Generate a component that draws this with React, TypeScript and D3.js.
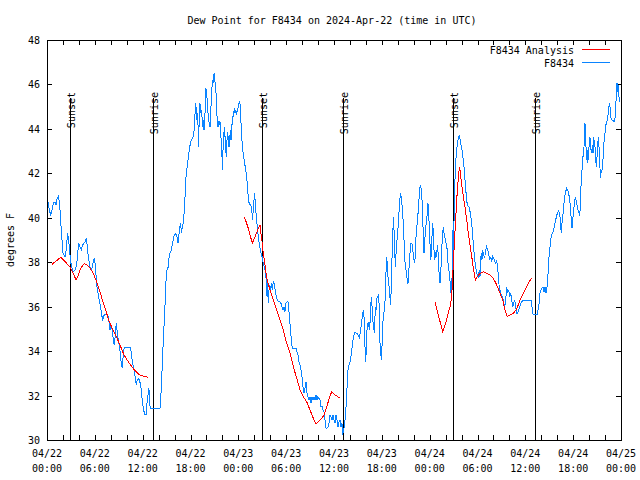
import React from 'react';
import * as d3 from 'd3';

const START_UTC = Date.UTC(2024, 3, 22, 0, 0);
const END_UTC = Date.UTC(2024, 3, 25, 0, 0);

const chartTitle = 'Dew Point for F8434 on 2024-Apr-22 (time in UTC)';
const yAxisLabel = 'degrees F';
const seriesNames = ['F8434 Analysis', 'F8434'];
const yTickValues = [30, 32, 34, 36, 38, 40, 42, 44, 46, 48];

// hours after 2024-04-22 00:00 UTC
const sunsetHours = [2.9, 27.0, 50.97];
const sunriseHours = [13.25, 37.17, 61.25];

// observed dew point [hours, degF]
const observed: [number, number][] = [
  [0.0,41.0],[0.29,40.35],[0.46,40.13],[0.59,40.27],[0.79,40.65],[1.0,40.72],[1.13,40.57],[1.21,40.8],[1.42,40.95],[1.55,40.72],[1.63,40.35],[1.76,39.6],[1.88,39.0],[1.96,38.47],[2.13,38.33],[2.26,38.25],[2.38,38.47],[2.47,38.85],[2.59,39.3],[2.72,39.0],[2.84,38.47],[2.97,38.02],[3.09,37.8],[3.3,37.57],[3.51,37.65],[3.72,37.88],[3.85,38.4],[3.97,38.85],[4.14,38.7],[4.3,38.55],[4.48,38.78],[4.64,38.85],[4.8,38.92],[4.93,39.07],[5.06,38.7],[5.18,38.25],[5.39,37.8],[5.6,37.65],[5.81,38.02],[5.93,38.17],[6.06,37.9],
  [6.23,37.0],[6.44,36.5],[6.65,36.1],[6.86,35.65],[6.99,35.35],[7.06,35.55],[7.19,35.63],[7.49,35.63],[7.69,35.55],[7.81,35.25],[7.9,34.95],[8.03,35.18],[8.19,34.95],[8.32,34.5],[8.44,34.28],[8.57,34.73],[8.69,35.25],[8.82,34.8],[8.94,34.5],[9.07,34.28],[9.19,33.9],[9.32,33.45],[9.45,33.23],[9.57,33.9],[9.7,34.17],[10.41,34.17],[10.57,33.97],[10.7,33.52],[10.83,33.3],[10.95,33.07],[11.08,32.78],[11.2,32.5],[11.33,32.7],[11.45,32.78],[11.58,32.7],[11.75,32.48],[11.88,32.03],[12.0,31.65],[12.13,31.35],[12.26,31.13],[12.42,31.13],[12.54,31.65],[12.67,32.03],[12.79,32.33],[12.88,31.58],[13.0,31.4],[14.17,31.4],[14.3,32.1],[14.43,33.15],[14.59,34.5],[14.76,35.7],[14.89,36.75],
  [14.97,37.57],[15.22,37.8],[15.34,38.33],[15.59,38.55],[15.84,39.0],[15.97,39.23],[16.09,39.3],[16.22,39.23],[16.34,39.08],[16.43,38.85],[16.52,39.15],[16.65,39.53],[16.72,39.75],[16.81,39.53],[16.9,39.3],[16.97,39.68],[17.1,39.75],[17.22,40.35],[17.35,41.2],
  [17.47,42.07],[17.6,42.3],[17.72,42.68],[17.85,43.05],[17.98,43.35],[18.1,43.5],[18.23,43.58],[18.35,43.65],[18.48,44.03],[18.57,44.7],[18.65,45.15],[18.73,44.85],[18.82,44.4],[18.9,44.7],[18.98,43.65],[19.03,43.2],[19.1,44.85],[19.19,45.15],[19.28,44.7],[19.36,44.85],[19.44,44.55],[19.53,44.1],[19.61,44.4],[19.69,43.95],[19.78,44.25],[19.86,45.15],[19.94,45.83],[20.03,45.45],[20.11,45.3],[20.2,44.7],[20.28,44.4],[20.36,44.25],[20.45,44.1],[20.53,44.55],[20.61,45.45],[20.7,45.9],[20.78,46.2],[20.86,46.05],[20.95,46.5],[21.04,46.2],[21.11,45.98],[21.2,45.6],[21.29,44.78],[21.36,44.4],[21.45,44.1],[21.54,44.33],[21.61,44.18],[21.7,44.33],[21.79,43.8],[21.86,43.42],[21.95,42.75],[21.99,42.15],[22.08,43.05],[22.17,43.65],[22.24,44.1],[22.33,43.65],[22.42,43.05],[22.49,42.75],[22.58,43.5],[22.67,43.88],[22.74,43.5],[22.83,43.2],[22.92,43.5],[22.99,43.95],[23.08,43.5],[23.17,43.95],[23.24,44.4],[23.33,44.55],[23.42,44.78],[23.5,44.85],[23.58,44.7],[23.67,44.85],[23.75,44.63],[23.83,44.78],[23.92,44.85],[24.0,45.0],[24.08,45.15],[24.17,45.22],[24.25,45.0],[24.34,44.25],[24.42,43.65],[24.55,43.05],[24.67,42.75],[24.8,42.45],[24.92,42.15],[25.05,41.85],[25.13,41.48],[25.21,41.1],[25.3,40.72],[25.38,40.65],[25.5,40.58],[25.63,40.5],[25.72,40.2],[25.8,39.9],[25.88,40.5],[25.97,40.8],[26.05,41.1],[26.13,40.65],[26.22,40.2],[26.3,39.9],
  [26.43,39.37],[26.56,39.0],[26.68,38.7],[26.81,38.47],[26.93,38.33],[27.06,38.1],[27.13,37.95],[27.26,37.8],[27.38,37.57],[27.51,37.2],[27.6,36.45],[27.68,37.05],[27.76,36.15],[27.85,36.75],[27.93,36.98],[28.01,36.67],[28.14,37.05],[28.26,36.75],[28.39,37.12],[28.51,37.05],[28.64,36.67],[28.76,36.45],[28.89,36.3],[29.01,36.22],[29.23,36.22],[29.35,36.15],[29.48,36.0],[29.6,35.85],[29.73,36.0],[29.85,35.77],[29.98,36.15],[30.11,36.22],[30.23,36.22],[30.32,36.0],[30.39,35.55],[30.52,35.1],[30.64,34.5],[30.77,34.13],[31.23,34.13],[31.36,33.97],[31.48,33.83],[31.61,33.52],[31.74,33.38],[31.86,33.15],[31.99,32.85],[32.11,32.4],[32.24,32.1],[32.36,32.33],[32.49,32.62],[32.62,32.1],[32.74,31.95],[32.87,31.8],[32.99,31.95],[33.12,31.65],[33.24,31.95],[33.37,31.8],[33.49,31.95],[33.62,31.8],[33.74,32.03],[33.87,31.8],[33.99,31.95],[34.24,31.8],[34.37,31.5],[34.5,31.5],[34.62,31.35],[34.75,31.27],[34.87,30.9],[35.0,30.53],[35.12,30.53],[35.25,30.6],[35.37,30.75],[35.5,31.13],[35.62,31.05],[35.75,30.9],[35.88,31.13],[36.0,30.9],[36.13,30.75],[36.25,31.13],[36.38,30.9],[36.5,30.6],[36.63,30.82],[36.75,30.9],[36.88,30.6],[37.0,30.75],[37.09,30.23],[37.17,30.37],[37.26,30.53],[37.38,30.9],[37.51,31.5],[37.63,32.33],[37.76,33.15],[37.88,33.38],[38.01,33.52],[38.13,33.75],[38.26,34.13],[38.38,34.5],[38.51,34.73],[38.63,34.87],[38.76,34.8],[38.92,34.8],[39.1,34.65],[39.2,34.58],
  [39.3,34.87],[39.43,35.18],[39.55,35.55],[39.68,35.85],[39.8,35.4],[39.89,34.2],[39.98,33.52],[40.05,34.13],[40.14,34.95],[40.23,35.25],[40.3,35.1],[40.39,35.32],[40.48,34.95],[40.55,35.55],[40.64,36.22],[40.73,36.45],[40.8,35.7],[40.89,35.32],[40.98,35.1],[41.06,34.8],[41.14,35.55],[41.23,36.0],[41.31,35.85],[41.39,36.38],[41.48,36.45],[41.61,36.53],[41.68,35.85],[41.77,34.35],[41.86,33.97],[41.93,33.6],[42.02,34.2],[42.11,35.18],[42.19,35.55],[42.31,35.85],[42.44,36.45],[42.52,37.5],[42.61,38.25],[42.69,37.88],[42.77,37.35],[42.94,36.83],[43.03,36.38],[43.11,36.08],[43.19,36.98],[43.28,38.25],[43.36,39.0],[43.44,40.05],[43.53,39.45],[43.62,38.55],[43.69,37.8],[43.78,38.4],[43.87,38.85],[43.94,39.15],[44.03,39.53],[44.12,39.9],[44.19,40.58],[44.28,40.88],[44.37,41.1],[44.44,40.88],[44.53,40.58],[44.62,40.2],[44.69,39.75],[44.78,39.0],[44.87,38.25],[44.94,37.8],[45.03,37.65],[45.12,37.5],[45.2,37.05],[45.28,37.05],[45.37,37.5],[45.45,37.95],[45.53,38.4],[45.62,38.85],[45.78,38.85],[45.87,38.63],[45.95,38.33],[46.04,38.1],[46.12,37.95],[46.2,38.33],[46.29,39.15],[46.37,39.45],[46.45,39.9],[46.54,40.2],[46.63,40.65],[46.7,41.03],[46.79,41.4],[46.88,41.48],[46.95,41.17],[47.04,40.8],[47.13,40.05],[47.2,39.15],[47.29,38.4],[47.38,38.85],[47.45,39.37],[47.54,39.68],[47.63,39.75],[47.7,40.35],[47.79,40.65],[47.88,40.2],[47.95,39.6],[48.04,38.85],[48.13,38.1],[48.21,38.4],[48.29,39.15],[48.38,39.75],[48.46,39.3],[48.54,38.55],[48.63,38.1],[48.71,38.25],[48.79,38.47],[48.88,38.25],[48.96,38.78],[49.05,38.47],[49.13,37.8],[49.21,37.35],[49.3,37.05],[49.39,37.5],[49.46,38.1],[49.55,38.85],[49.64,39.3],[49.71,39.6],[49.8,39.3],[49.89,39.15],[49.96,39.0],[50.05,38.85],[50.21,38.55],[50.3,37.95],[50.38,37.8],[50.46,37.5],[50.54,37.2],[50.64,36.75],[50.72,36.45],[50.8,37.2],[50.89,39.45],[50.97,37.95],
  [51.1,40.95],[51.22,42.15],[51.34,42.9],[51.47,43.28],[51.59,43.58],[51.72,43.73],[51.84,43.5],[51.97,43.2],[52.09,42.98],[52.22,42.6],[52.34,42.15],[52.47,41.55],[52.6,40.95],[52.72,40.58],[52.85,40.5],[52.97,40.47],[53.1,40.2],[53.22,39.9],[53.35,39.45],[53.47,38.85],[53.6,38.33],[53.72,37.88],[53.85,37.65],[53.97,37.43],[54.1,37.35],[54.22,37.65],[54.31,37.35],[54.4,38.1],[54.48,38.4],[54.56,38.1],[54.65,38.55],[54.78,38.33],[54.9,38.18],[55.03,38.55],[55.15,38.7],[55.28,38.55],[55.4,38.4],[55.53,38.1],[55.66,38.25],[55.78,38.02],[55.91,38.25],[56.03,38.18],[56.16,38.02],[56.28,37.95],[56.41,38.1],[56.49,37.8],[56.66,37.35],[56.74,36.6],[56.82,36.75],[56.91,36.6],[57.04,36.45],[57.16,36.45],[57.29,36.15],[57.41,36.0],[57.54,36.3],[57.66,36.9],[57.79,36.6],[57.91,36.75],[58.04,36.45],[58.17,36.6],[58.29,36.3],[58.42,36.0],[58.54,36.15],[58.67,36.3],[58.79,36.0],[58.92,35.7],[59.04,35.7],[59.17,35.85],[59.3,36.0],[59.42,36.15],[59.55,36.22],[59.75,36.3],[60.72,36.3],[60.84,36.0],[60.97,35.63],[61.47,35.63],[61.6,35.85],[61.72,36.15],[61.85,36.67],[61.97,36.75],[62.1,36.83],[62.22,36.9],[62.35,36.67],[62.47,36.9],[62.6,36.6],[62.72,36.9],[62.85,37.5],[62.97,38.25],[63.1,38.7],
  [63.18,39.0],[63.31,39.23],[63.56,39.45],[63.68,39.68],[63.81,39.9],[63.94,40.13],[64.06,40.2],[64.19,40.35],[64.26,40.13],[64.35,40.05],[64.44,39.6],[64.51,39.3],[64.6,39.75],[64.69,40.05],[64.77,40.35],[64.85,40.65],[64.94,40.95],[65.06,41.17],[65.19,41.33],[65.31,41.25],[65.44,41.1],[65.56,40.8],[65.69,40.43],[65.77,39.75],[65.86,39.53],[65.94,39.9],[66.02,40.13],[66.15,40.65],[66.27,40.95],[66.4,40.72],[66.52,40.5],[66.65,40.27],[66.73,40.2],[66.82,40.13],[66.9,40.5],[66.98,41.4],[67.07,42.0],[67.15,42.3],[67.23,42.75],[67.32,42.9],[67.4,43.5],[67.48,44.25],[67.57,43.8],[67.65,42.6],[67.74,43.05],[67.82,42.45],[67.9,42.75],[67.99,43.2],[68.07,43.65],[68.15,43.5],[68.24,43.05],[68.33,42.9],[68.4,43.28],[68.49,42.9],[68.58,43.65],[68.65,43.35],[68.74,43.2],[68.83,42.6],[68.9,42.3],[68.99,42.75],[69.07,43.2],[69.15,43.65],[69.24,43.2],[69.33,42.6],[69.41,41.78],[69.49,42.15],[69.58,42.0],[69.66,42.3],[69.74,42.6],[69.83,43.2],[69.91,43.65],[69.99,43.8],[70.08,44.18],[70.2,44.25],[70.33,44.55],[70.46,44.85],[70.53,45.15],[70.62,45.0],[70.71,44.55],[70.83,44.4],[71.21,44.33],[71.33,44.85],[71.41,45.6],[71.5,46.05],[71.58,45.68],[71.66,45.98],[71.75,45.45],[71.83,45.22],
];

// analysis runs [hours, degF]
const analysisRun1: [number, number][] = [
  [0.66,37.9],[1.0,38.02],[1.42,38.13],[1.71,38.22],[2.05,38.1],[2.47,37.95],[2.89,37.77],[3.3,37.5],[3.64,37.2],[3.93,37.43],[4.23,37.73],[4.68,37.95],[4.98,37.88],[5.39,37.73],[5.81,37.5],[6.23,37.12],[6.56,36.75],[7.15,36.08],[7.81,35.32],[8.4,34.87],[9.07,34.35],[9.66,33.83],[10.32,33.45],[10.91,33.18],[11.58,32.93],[12.29,32.85],[12.71,32.82],
];
const analysisRun2: [number, number][] = [
  [24.75,40.05],[25.25,39.53],[25.75,38.85],[26.09,39.15],[26.43,39.45],[26.72,39.68],[26.84,39.3],[27.0,38.85],[27.13,38.4],[27.35,37.88],[27.56,37.28],[27.97,36.75],[28.39,36.3],[28.81,35.85],[29.23,35.4],[29.64,34.95],[30.07,34.35],[30.48,33.9],[30.9,33.3],[31.32,32.78],[31.74,32.25],[32.15,31.95],[32.58,31.72],[32.99,31.35],[33.4,30.98],[33.74,30.72],[34.03,30.82],[34.46,30.98],[34.78,31.13],[35.09,31.5],[35.41,31.88],[35.71,32.17],[36.13,32.03],[36.67,31.9],
];
const analysisRun3: [number, number][] = [
  [48.67,36.22],[49.08,35.63],[49.64,34.87],[50.05,35.32],[50.55,36.0],[50.76,36.45],[50.97,37.95],[51.14,39.15],[51.3,40.2],[51.47,41.25],[51.64,42.0],[51.77,42.3],[51.89,41.85],[52.06,41.4],[52.22,40.95],[52.43,40.5],[52.65,39.9],[52.85,39.3],[53.06,38.78],[53.28,38.25],[53.48,37.73],[53.73,37.2],[53.98,37.35],[54.32,37.5],[54.73,37.57],[55.15,37.5],[55.57,37.43],[55.98,37.28],[56.41,36.98],[56.82,36.6],[57.16,36.3],[57.45,35.85],[57.74,35.55],[58.08,35.63],[58.49,35.7],[58.83,35.85],[59.12,36.08],[59.33,36.3],[59.75,36.6],[60.17,36.9],[60.5,37.12],[60.75,37.28],
];

const BLUE = '#0a84ff';
const RED = '#ff0000';
const FONT = '"DejaVu Sans Mono", "Liberation Mono", monospace';

const toDate = (h: number) => new Date(START_UTC + h * 3600 * 1000);

export default function App() {
  const W = 640, H = 480;
  const L = 47, R = 621, T = 40, B = 440;
  const x = d3.scaleUtc().domain([new Date(START_UTC), new Date(END_UTC)]).range([L, R]);
  const y = d3.scaleLinear().domain([30, 48]).range([B, T]);
  const line = d3.line<[number, number]>().x(d => x(toDate(d[0]))).y(d => y(d[1]));

  const minorTicks = d3.utcHour.every(2)!.range(new Date(START_UTC), new Date(END_UTC + 1));
  const labelTicks = d3.utcHour.every(6)!.range(new Date(START_UTC), new Date(END_UTC + 1));
  const fmtDate = d3.utcFormat('%m/%d');
  const fmtTime = d3.utcFormat('%H:%M');
  const tickLen = 5;

  const sunLines = [
    ...sunsetHours.map(h => ({ h, label: 'Sunset' })),
    ...sunriseHours.map(h => ({ h, label: 'Sunrise' })),
  ];

  return (
    <svg width={W} height={H} style={{ position: 'absolute', left: 0, top: 0, background: '#fff' }} fontFamily={FONT} fontSize={10}>
      <rect x={0} y={0} width={W} height={H} fill="#fff" />
      <text x={332} y={24} textAnchor="middle" fill="#000">{chartTitle}</text>

      {/* ticks */}
      <g stroke="#000" strokeWidth={1} shapeRendering="crispEdges">
        {minorTicks.map((d, i) => (
          <g key={'xt' + i}>
            <line x1={Math.round(x(d)) + 0.5} x2={Math.round(x(d)) + 0.5} y1={B} y2={B - tickLen} />
            <line x1={Math.round(x(d)) + 0.5} x2={Math.round(x(d)) + 0.5} y1={T} y2={T + tickLen} />
          </g>
        ))}
        {yTickValues.map(v => (
          <g key={'yt' + v}>
            <line x1={L} x2={L + tickLen} y1={Math.round(y(v)) + 0.5} y2={Math.round(y(v)) + 0.5} />
            <line x1={R} x2={R - tickLen} y1={Math.round(y(v)) + 0.5} y2={Math.round(y(v)) + 0.5} />
          </g>
        ))}
      </g>

      {/* y tick labels */}
      {yTickValues.map(v => (
        <text key={'yl' + v} x={40} y={y(v) + 4} textAnchor="end" fill="#000">{v}</text>
      ))}
      {/* x tick labels */}
      {labelTicks.map((d, i) => (
        <g key={'xl' + i}>
          <text x={x(d)} y={457} textAnchor="middle" fill="#000">{fmtDate(d)}</text>
          <text x={x(d)} y={472} textAnchor="middle" fill="#000">{fmtTime(d)}</text>
        </g>
      ))}

      <text transform={`translate(14,${(T + B) / 2}) rotate(-90)`} textAnchor="middle" fill="#000">{yAxisLabel}</text>

      {/* sunrise / sunset markers */}
      {sunLines.map((s, i) => {
        const px = Math.round(x(toDate(s.h))) + 0.5;
        return (
          <g key={'sun' + i}>
            <line x1={px} x2={px} y1={98} y2={B} stroke="#000" strokeWidth={1} shapeRendering="crispEdges" />
            <text transform={`translate(${px + 4},92) rotate(-90)`} textAnchor="end" fill="#000">{s.label}</text>
          </g>
        );
      })}

      {/* data */}
      <path d={line(observed) || ''} fill="none" stroke={BLUE} strokeWidth={1} shapeRendering="crispEdges" />
      {[analysisRun1, analysisRun2, analysisRun3].map((run, i) => (
        <path key={'ana' + i} d={line(run) || ''} fill="none" stroke={RED} strokeWidth={1} shapeRendering="crispEdges" />
      ))}

      {/* legend */}
      <text x={574} y={54} textAnchor="end" fill="#000">{seriesNames[0]}</text>
      <line x1={582} x2={610} y1={49.5} y2={49.5} stroke={RED} strokeWidth={1} shapeRendering="crispEdges" />
      <text x={574} y={67} textAnchor="end" fill="#000">{seriesNames[1]}</text>
      <line x1={582} x2={610} y1={62.5} y2={62.5} stroke={BLUE} strokeWidth={1} shapeRendering="crispEdges" />

      {/* frame */}
      <rect x={L + 0.5} y={T + 0.5} width={R - L} height={B - T} fill="none" stroke="#000" strokeWidth={1} shapeRendering="crispEdges" />
    </svg>
  );
}
